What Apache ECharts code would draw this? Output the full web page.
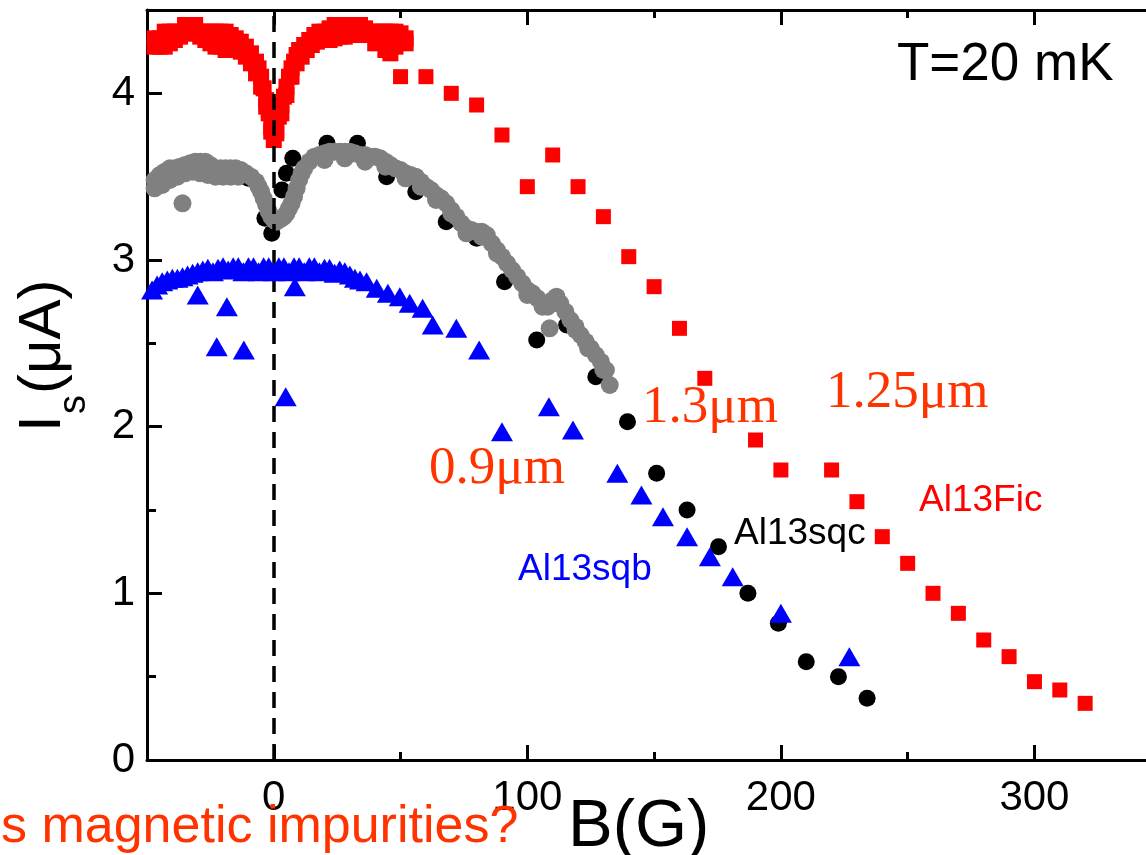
<!DOCTYPE html>
<html><head><meta charset="utf-8">
<script src="https://cdn.jsdelivr.net/npm/echarts@6/dist/echarts.min.js"></script>
<style>html,body{margin:0;padding:0;background:#fff;overflow:hidden}#c{width:1146px;height:855px}</style>
</head><body><div id="c"></div>
<script>
// ---------------- DATA ----------------
const xMajorTicks = [0, 100, 200, 300];
const xMinorTicks = [-50, 50, 150, 250];
const yMajorTicks = [0, 1, 2, 3, 4];
const yMinorTicks = [0.5, 1.5, 2.5, 3.5];

// Al13Fic (red squares), dense sweep, upper branch
const redSweepA = [[-47,4.33],[-45,4.33],[-43,4.37],[-41,4.37],[-39,4.37],[-37,4.37],[-35,4.41],[-33,4.41],[-31,4.41],[-29,4.37],[-27,4.37],[-25,4.37],[-23,4.37],[-21,4.37],[-19,4.37],[-17,4.35],[-15,4.33],[-13,4.31],[-11,4.28],[-9,4.24],[-7,4.19],[-6,4.15],[-5,4.10],[-4,4.03],[-3,3.96],[-2,3.88],[-1,3.80],[0,3.72],[1,3.78],[2,3.86],[3,3.93],[4,3.98],[5,4.04],[6,4.10],[7,4.15],[8,4.19],[9,4.23],[10,4.26],[12,4.29],[14,4.32],[16,4.35],[18,4.37],[20,4.37],[22,4.39],[24,4.41],[26,4.41],[28,4.41],[30,4.41],[32,4.41],[34,4.41],[36,4.39],[38,4.37],[40,4.37],[42,4.37],[44,4.37],[46,4.37],[48,4.37],[50,4.36],[52,4.33]];
// Al13Fic dense sweep, lower branch
const redSweepB = [[-47,4.28],[-45,4.28],[-43,4.28],[-41,4.30],[-39,4.32],[-37,4.34],[-35,4.36],[-33,4.36],[-31,4.36],[-29,4.34],[-27,4.32],[-25,4.30],[-23,4.28],[-21,4.28],[-19,4.26],[-17,4.30],[-15,4.27],[-13,4.25],[-11,4.22],[-9,4.18],[-7,4.12],[-5,4.04],[-3,3.92],[-1,3.77],[1,3.76],[3,3.88],[5,3.99],[7,4.10],[9,4.18],[11,4.22],[13,4.26],[15,4.29],[17,4.31],[20,4.32],[22,4.32],[24,4.33],[26,4.34],[28,4.34],[30,4.35],[32,4.36],[34,4.36],[36,4.35],[38,4.36],[40,4.30],[42,4.32],[44,4.26],[46,4.24],[48,4.28],[50,4.31],[52,4.30]];
// Al13Fic sparse points
const redSparse = [[50,4.10],[60,4.10],[70,4.00],[80,3.93],[90,3.75],[100,3.44],[110,3.63],[120,3.44],[130,3.26],[140,3.02],[150,2.84],[160,2.59],[170,2.29],[190,1.92],[200,1.74],[220,1.74],[230,1.55],[240,1.34],[250,1.18],[260,1.00],[270,0.88],[280,0.72],[290,0.62],[300,0.47],[310,0.42],[320,0.34]];

// Al13sqc (black circles)
const blackPts = [[-46,3.45],[-34,3.55],[-22,3.53],[-10,3.49],[-3.5,3.25],[-0.8,3.16],[3.2,3.42],[5,3.52],[7.5,3.61],[21,3.70],[33,3.70],[44.5,3.50],[56,3.41],[68,3.23],[80,3.13],[91,2.87],[103.7,2.52],[115.5,2.61],[127,2.30],[139.5,2.03],[151,1.72],[163,1.50],[175.4,1.28],[187,1.00],[199,0.82],[210,0.59],[222.7,0.50],[234,0.37]];

// Al13sqc second sweep (grey circles)
const greySweepA = [[-47,3.48],[-45,3.51],[-43,3.53],[-41,3.55],[-39,3.55],[-37,3.56],[-35,3.57],[-33,3.58],[-31,3.59],[-29,3.59],[-27,3.59],[-25,3.57],[-23,3.55],[-21,3.55],[-19,3.55],[-17,3.55],[-15,3.55],[-13,3.54],[-11,3.52],[-9,3.50],[-7,3.47],[-6,3.44],[-5,3.41],[-4,3.37],[-3,3.33],[-2,3.29],[-1,3.26],[0,3.24],[1,3.23],[2,3.24],[3,3.25],[4,3.26],[5,3.28],[6,3.31],[7,3.34],[8,3.38],[9,3.43],[10,3.48],[11,3.52],[12,3.55],[14,3.59],[16,3.62],[18,3.63],[20,3.64],[22,3.65],[24,3.65],[26,3.65],[28,3.65],[30,3.65],[32,3.64],[34,3.63],[36,3.63],[38,3.62],[40,3.62],[42,3.61],[44,3.59],[46,3.57],[48,3.55],[50,3.54],[52,3.52],[54,3.51],[56,3.50],[58,3.47],[60,3.44],[62,3.42],[64,3.39],[66,3.37],[68,3.34],[70,3.30],[72,3.26],[74,3.22],[76,3.19],[78,3.18],[80,3.17],[82,3.17],[84,3.15],[86,3.10],[88,3.06],[90,3.02],[92,2.98],[94,2.94],[96,2.90],[98,2.86],[100,2.82],[102,2.80],[104,2.77],[106,2.74],[108,2.72],[110,2.76],[111.5,2.78],[113,2.74],[115,2.69],[117,2.64],[119,2.60],[121,2.55],[123,2.51],[125,2.47],[127,2.43],[129,2.39],[131,2.34],[132.5,2.25]];
const greySweepB = [[-47,3.43],[-44,3.45],[-41,3.48],[-38,3.50],[-35,3.52],[-32,3.53],[-29,3.52],[-26,3.51],[-23,3.50],[-20,3.50],[-17,3.50],[-14,3.50],[-36,3.34],[108.8,2.59],[20,3.60],[28,3.61],[36,3.59],[44,3.56],[52,3.49],[58,3.44],[64,3.36],[70,3.28],[76,3.16],[82,3.14],[88,3.04],[100,2.79],[106,2.72],[112,2.74],[119,2.58],[124,2.47],[130,2.34]];

// Al13sqb (blue triangles)
const bluePts = [[-48,2.82],[-46,2.85],[-44,2.87],[-42,2.88],[-40,2.89],[-38,2.89],[-36,2.90],[-34,2.91],[-32,2.92],[-30,2.93],[-28,2.94],[-26,2.95],[-24,2.93],[-22,2.95],[-20,2.96],[-18,2.94],[-16,2.96],[-14,2.96],[-12,2.93],[-10,2.96],[-8,2.96],[-6,2.93],[-4,2.96],[-2,2.96],[0,2.93],[2,2.96],[4,2.96],[6,2.93],[8,2.96],[10,2.96],[12,2.93],[14,2.96],[16,2.96],[18,2.93],[20,2.95],[22,2.95],[24,2.92],[26,2.94],[28,2.93],[30,2.91],[32,2.89],[34,2.88],[36.6,2.87],[40.6,2.83],[45,2.80],[49.7,2.78],[53.6,2.74],[58.7,2.71],[62.7,2.61],[72,2.59],[81,2.46],[90,1.97],[108.5,2.12],[118,1.98],[135.5,1.72],[145,1.59],[153.5,1.46],[163,1.34],[172,1.22],[181,1.10],[200,0.88],[227,0.62]];
const blueOutliers = [[-30,2.79],[-18.5,2.72],[-22.5,2.48],[-11.8,2.46],[4.7,2.18],[8.3,2.84]];

// ---------------- CHART ----------------
const SANS = '"Liberation Sans", Arial, Helvetica, sans-serif';
const SERIF = '"Liberation Serif", "Times New Roman", Times, serif';
const chart = echarts.init(document.getElementById('c'), null, {renderer: 'canvas'});

function xAxisDef(position, ticks, len, showLine, showLabels) {
  return {
    type: 'value', position: position, min: -50, max: 344,
    axisLine: {show: showLine, onZero: false, lineStyle: {color: '#000', width: 3}},
    axisTick: {show: true, inside: true, length: len, customValues: ticks, lineStyle: {color: '#000', width: 3}},
    axisLabel: showLabels ? {show: true, customValues: xMajorTicks, margin: 17, color: '#000', fontSize: 42, fontFamily: SANS} : {show: false},
    splitLine: {show: false}
  };
}
function yAxisDef(ticks, len, showLine, showLabels) {
  return {
    type: 'value', position: 'left', min: 0, max: 4.5,
    axisLine: {show: showLine, onZero: false, lineStyle: {color: '#000', width: 3}},
    axisTick: {show: true, inside: true, length: len, customValues: ticks, lineStyle: {color: '#000', width: 3}},
    axisLabel: showLabels ? {show: true, customValues: yMajorTicks, margin: 12, color: '#000', fontSize: 42, fontFamily: SANS} : {show: false},
    splitLine: {show: false}
  };
}
function scatter(name, data, symbol, size, color, z) {
  return {name: name, type: 'scatter', data: data, symbol: symbol, symbolSize: size,
    itemStyle: {color: color, opacity: 1}, z: z, xAxisIndex: 0, yAxisIndex: 0,
    emphasis: {disabled: true}, silent: true};
}

const series = [
  Object.assign(scatter('Al13Fic-a', redSweepA, 'rect', 16, '#ff0000', 2), {
    markLine: {silent: true, symbol: ['none', 'none'], label: {show: false},
      lineStyle: {color: '#000', width: 3.5, type: [16, 10]}, data: [{xAxis: 0}]}
  }),
  scatter('Al13Fic-b', redSweepB, 'rect', 16, '#ff0000', 2),
  scatter('Al13Fic', redSparse, 'rect', 15, '#ff0000', 2),
  scatter('Al13sqc', blackPts, 'circle', 17, '#000000', 3),
  scatter('Al13sqc-grey-a', greySweepA, 'circle', 18, '#808080', 4),
  scatter('Al13sqc-grey-b', greySweepB, 'circle', 18, '#808080', 4),
  scatter('Al13sqb', bluePts, 'triangle', [22, 19], '#0000ff', 5),
  scatter('Al13sqb-out', blueOutliers, 'triangle', [22, 19], '#0000ff', 5)
];

function txt(text, x, y, size, color, family) {
  return {type: 'text', x: x, y: y, z: 100, silent: true,
    style: {text: text, font: size + 'px ' + family, fill: color, align: 'left', verticalAlign: 'middle'}};
}

chart.setOption({
  animation: false,
  backgroundColor: '#ffffff',
  grid: {left: 147, top: 10, bottom: 95, right: 0, containLabel: false},
  xAxis: [
    xAxisDef('bottom', xMajorTicks, 15, true, true),
    xAxisDef('bottom', xMinorTicks, 8, false, false),
    xAxisDef('top', xMajorTicks, 15, true, false),
    xAxisDef('top', xMinorTicks, 8, false, false)
  ],
  yAxis: [
    yAxisDef(yMajorTicks, 15, true, true),
    yAxisDef(yMinorTicks, 9, false, false)
  ],
  series: series,
  graphic: [
    txt('T=20 mK', 897, 65, 53, '#000', SANS),
    txt('1.3\u03bcm', 642, 408, 53, '#ff3300', SERIF),
    txt('1.25\u03bcm', 826, 393, 53, '#ff3300', SERIF),
    txt('0.9\u03bcm', 429, 469, 53, '#ff3300', SERIF),
    txt('Al13Fic', 919, 501, 37, '#ff0000', SANS),
    txt('Al13sqc', 734, 534, 37, '#000000', SANS),
    txt('Al13sqb', 518, 570, 37, '#0000ff', SANS),
    txt('B(G)', 568, 828, 67, '#000000', SANS),
    txt('s magnetic impurities?', 1, 828, 52, '#ff3300', SANS),
    {type: 'group', x: 63, y: 432, rotation: Math.PI / 2, z: 100, silent: true, children: [
      {type: 'text', x: 0, y: -20, style: {text: 'I', font: '60px ' + SANS, fill: '#000', align: 'left', verticalAlign: 'middle'}},
      {type: 'text', x: 18, y: 12, style: {text: 's', font: '38px ' + SANS, fill: '#000', align: 'left', verticalAlign: 'middle'}},
      {type: 'text', x: 38, y: -20, style: {text: '(\u03bcA)', font: '60px ' + SANS, fill: '#000', align: 'left', verticalAlign: 'middle'}}
    ]}
  ]
});
</script>
</body></html>
